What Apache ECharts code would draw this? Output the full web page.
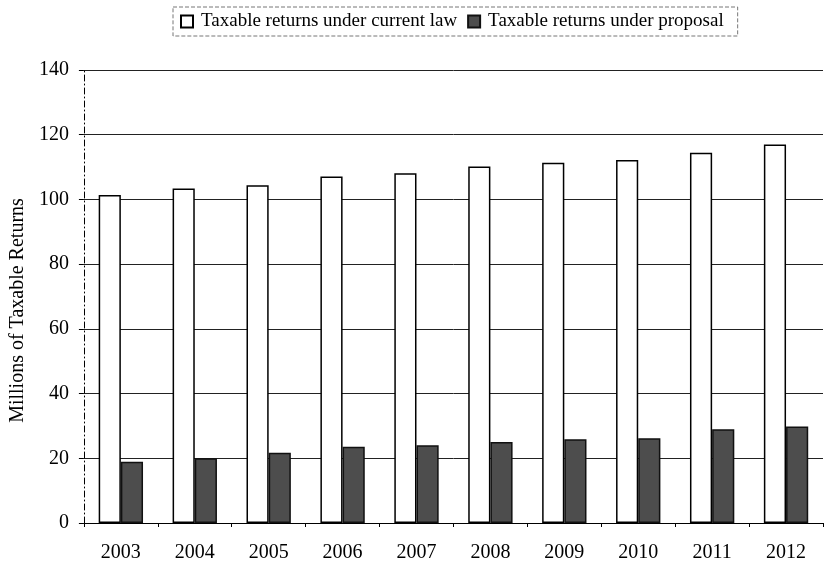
<!DOCTYPE html>
<html>
<head>
<meta charset="utf-8">
<script src="https://cdn.jsdelivr.net/npm/echarts@6/dist/echarts.min.js"></script>
<style>
  html, body { margin: 0; padding: 0; background: #fff; }
  #chart { width: 825px; height: 563px; }
</style>
</head>
<body>
<div id="chart"></div>
<script>
// data
var years = ["2003", "2004", "2005", "2006", "2007", "2008", "2009", "2010", "2011", "2012"];
var currentLaw = [101.4, 103.4, 104.4, 107.1, 108.1, 110.2, 111.3, 112.2, 114.4, 117.0];
var underProposal = [18.9, 20.0, 21.7, 23.6, 24.0, 25.0, 25.9, 26.2, 29.0, 29.8];
var yTicks = [0, 20, 40, 60, 80, 100, 120, 140];

var font = "Liberation Serif";
var chart = echarts.init(document.getElementById("chart"));

var option = {
  animation: false,
  textStyle: { fontFamily: font, color: "#000" },
  legend: {
    top: 7,
    left: 173,
    itemWidth: 12,
    itemHeight: 12,
    itemGap: 10,
    padding: [5, 14, 5, 7],
    borderColor: "#777",
    borderWidth: 1,
    borderType: "dashed",
    textStyle: { fontFamily: font, fontSize: 19, color: "#000", padding: [0, 0, 0, 3] },
    data: [
      { name: "Taxable returns under current law", icon: "rect" },
      { name: "Taxable returns under proposal", icon: "rect" }
    ]
  },
  grid: { left: 83, right: 2, top: 70, bottom: 40 },
  xAxis: {
    type: "category",
    data: years,
    axisLine: { lineStyle: { color: "#000", width: 1 } },
    axisTick: { show: true, length: 4, lineStyle: { color: "#000" } },
    axisLabel: { fontFamily: font, fontSize: 20, color: "#000", margin: 20 }
  },
  yAxis: {
    type: "value",
    min: yTicks[0],
    max: yTicks[yTicks.length - 1],
    interval: 20,
    name: "Millions of Taxable Returns",
    nameLocation: "middle",
    nameGap: 54,
    nameTextStyle: { fontFamily: font, fontSize: 20, color: "#000", padding: [0, 28, 0, 0] },
    axisLine: { show: true, lineStyle: { color: "#000", type: [6, 3, 1, 3] } },
    axisTick: { show: true, length: 5, lineStyle: { color: "#000" } },
    axisLabel: { fontFamily: font, fontSize: 20, color: "#000", margin: 15 },
    splitLine: { show: true, lineStyle: { color: "#222", width: 1 } }
  },
  series: [
    {
      name: "Taxable returns under current law",
      type: "bar",
      data: currentLaw,
      barGap: "0%",
      barCategoryGap: "40%",
      itemStyle: { color: "#fff", borderColor: "#000", borderWidth: 1.5 }
    },
    {
      name: "Taxable returns under proposal",
      type: "bar",
      data: underProposal,
      itemStyle: { color: "#4d4d4d", borderColor: "#111", borderWidth: 1.5 }
    }
  ]
};

chart.setOption(option);
</script>
</body>
</html>
